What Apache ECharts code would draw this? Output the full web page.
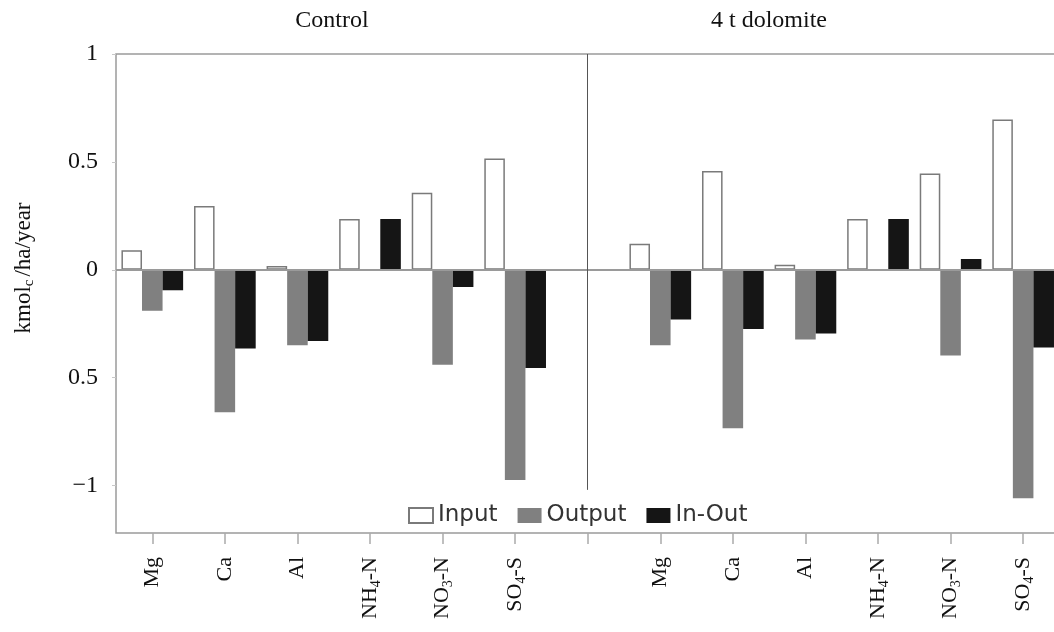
<!DOCTYPE html>
<html>
<head>
<meta charset="utf-8">
<script src="https://cdn.jsdelivr.net/npm/echarts@6/dist/echarts.min.js"></script>
<style>
  html, body { margin: 0; padding: 0; background: #fff; }
  #chart { width: 1054px; height: 632px; }
</style>
</head>
<body>
<div id="chart"></div>
<script>
// Element fluxes, kmol_c/ha/year, for the two treatments
const elements = ['Mg', 'Ca', 'Al', 'NH4-N', 'NO3-N', 'SO4-S'];
const panelTitles = ['Control', '4 t dolomite'];
const seriesNames = ['Input', 'Output', 'In-Out'];

const controlInput  = [0.09, 0.295, 0.018, 0.235, 0.357, 0.516];
const controlOutput = [-0.19, -0.66, -0.35, 0, -0.44, -0.974];
const controlNet    = [-0.095, -0.365, -0.33, 0.235, -0.08, -0.455];

const dolomiteInput  = [0.12, 0.458, 0.023, 0.235, 0.446, 0.697];
const dolomiteOutput = [-0.35, -0.734, -0.323, 0, -0.397, -1.059];
const dolomiteNet    = [-0.23, -0.275, -0.295, 0.235, 0.05, -0.36];

const yTickValues = [1, 0.5, 0, -0.5, -1];
const yTickLabels = ['1', '0.5', '0', '0.5', '\u22121'];

// One shared category axis: control slots, a divider slot, dolomite slots, a trailing slot
const slots = [...elements, '', ...elements, ''];
const dividerSlot = elements.length;
const joinPanels = (a, b) => [...a, null, ...b, null];

const inputData  = joinPanels(controlInput, dolomiteInput);
const outputData = joinPanels(controlOutput, dolomiteOutput);
const netData    = joinPanels(controlNet, dolomiteNet);

// Chemical labels with subscript digits
function chemLabel(name) {
  const m = name.match(/^([A-Z]+)(\d)(-.*)$/);
  if (!m) return '{m|' + name + '}';
  return '{m|' + m[1] + '}{s|' + m[2] + '}{m|' + m[3] + '}';
}

const serif = 'Liberation Serif';
const chart = echarts.init(document.getElementById('chart'), null, { renderer: 'canvas' });

chart.setOption({
  animation: false,
  backgroundColor: '#ffffff',
  grid: {
    left: 116, top: 54, width: 1016, height: 479,
    outerBoundsMode: 'none', containLabel: false,
    show: true, borderColor: '#9a9a9a', borderWidth: 1.5, backgroundColor: 'transparent'
  },
  legend: {
    data: seriesNames,
    left: 403, top: 499,
    icon: 'rect',
    itemWidth: 24, itemHeight: 15, itemGap: 20,
    textStyle: { fontFamily: 'DejaVu Sans', fontSize: 23, color: '#333', padding: [0, 0, 0, 0] }
  },
  xAxis: {
    type: 'category',
    data: slots,
    boundaryGap: true,
    position: 'bottom',
    axisLine: { show: false, onZero: false },
    axisTick: { show: true, alignWithLabel: true, interval: 0, length: 11, lineStyle: { color: '#aaaaaa', width: 1.5 } },
    axisLabel: {
      interval: 0, rotate: 90, margin: 24,
      formatter: (v) => v ? chemLabel(v) : '',
      rich: {
        m: { fontFamily: serif, fontSize: 22, color: '#111', lineHeight: 26 },
        s: { fontFamily: serif, fontSize: 14, color: '#111', lineHeight: 14, verticalAlign: 'bottom', padding: [6, 0, 0, 0] }
      }
    },
    splitLine: { show: false }
  },
  yAxis: {
    type: 'value',
    min: -1.22, max: 1,
    axisLine: { show: false },
    axisTick: { show: true, customValues: yTickValues, length: 4, lineStyle: { color: '#c8c8c8' } },
    axisLabel: {
      customValues: yTickValues,
      margin: 18,
      fontFamily: serif, fontSize: 24, color: '#111',
      formatter: (v) => {
        const i = yTickValues.findIndex(t => Math.abs(t - v) < 1e-9);
        return i >= 0 ? yTickLabels[i] : '';
      }
    },
    splitLine: { show: false }
  },
  graphic: [
    { type: 'text', x: 332, y: 21, style: { text: panelTitles[0], font: '24px "Liberation Serif"', fill: '#111', textAlign: 'center', textVerticalAlign: 'middle' } },
    { type: 'text', x: 769, y: 21, style: { text: panelTitles[1], font: '24px "Liberation Serif"', fill: '#111', textAlign: 'center', textVerticalAlign: 'middle' } },
    {
      type: 'text', x: 24, y: 268, rotation: Math.PI / 2,
      style: {
        text: '{m|kmol}{s|c}{m|/ha/year}',
        textAlign: 'center', textVerticalAlign: 'middle',
        rich: {
          m: { fontFamily: serif, fontSize: 23, fill: '#111', lineHeight: 26 },
          s: { fontFamily: serif, fontSize: 15, fill: '#111', lineHeight: 15, verticalAlign: 'bottom', padding: [6, 3, 0, 0] }
        }
      }
    }
  ],
  series: [
    {
      name: seriesNames[0], type: 'bar', data: inputData,
      barGap: '0%', barCategoryGap: '15%',
      itemStyle: { color: '#ffffff', borderColor: '#7a7a7a', borderWidth: 1.5 }
    },
    {
      // middle bar of each group: its markers sit on the category centre
      name: seriesNames[1], type: 'bar', data: outputData,
      barGap: '0%', barCategoryGap: '15%',
      itemStyle: { color: '#808080' },
      markLine: {
        silent: true, symbol: 'none', label: { show: false },
        data: [
          { yAxis: 0, lineStyle: { color: '#9a9a9a', width: 2, type: 'solid' } },
          // panel divider, stopping above the legend row
          [
            { coord: [dividerSlot, 1], lineStyle: { color: '#555555', width: 1, type: 'solid' } },
            { coord: [dividerSlot, -1.02] }
          ]
        ]
      }
    },
    {
      name: seriesNames[2], type: 'bar', data: netData,
      barGap: '0%', barCategoryGap: '15%',
      itemStyle: { color: '#151515' }
    }
  ]
});
</script>
</body>
</html>
